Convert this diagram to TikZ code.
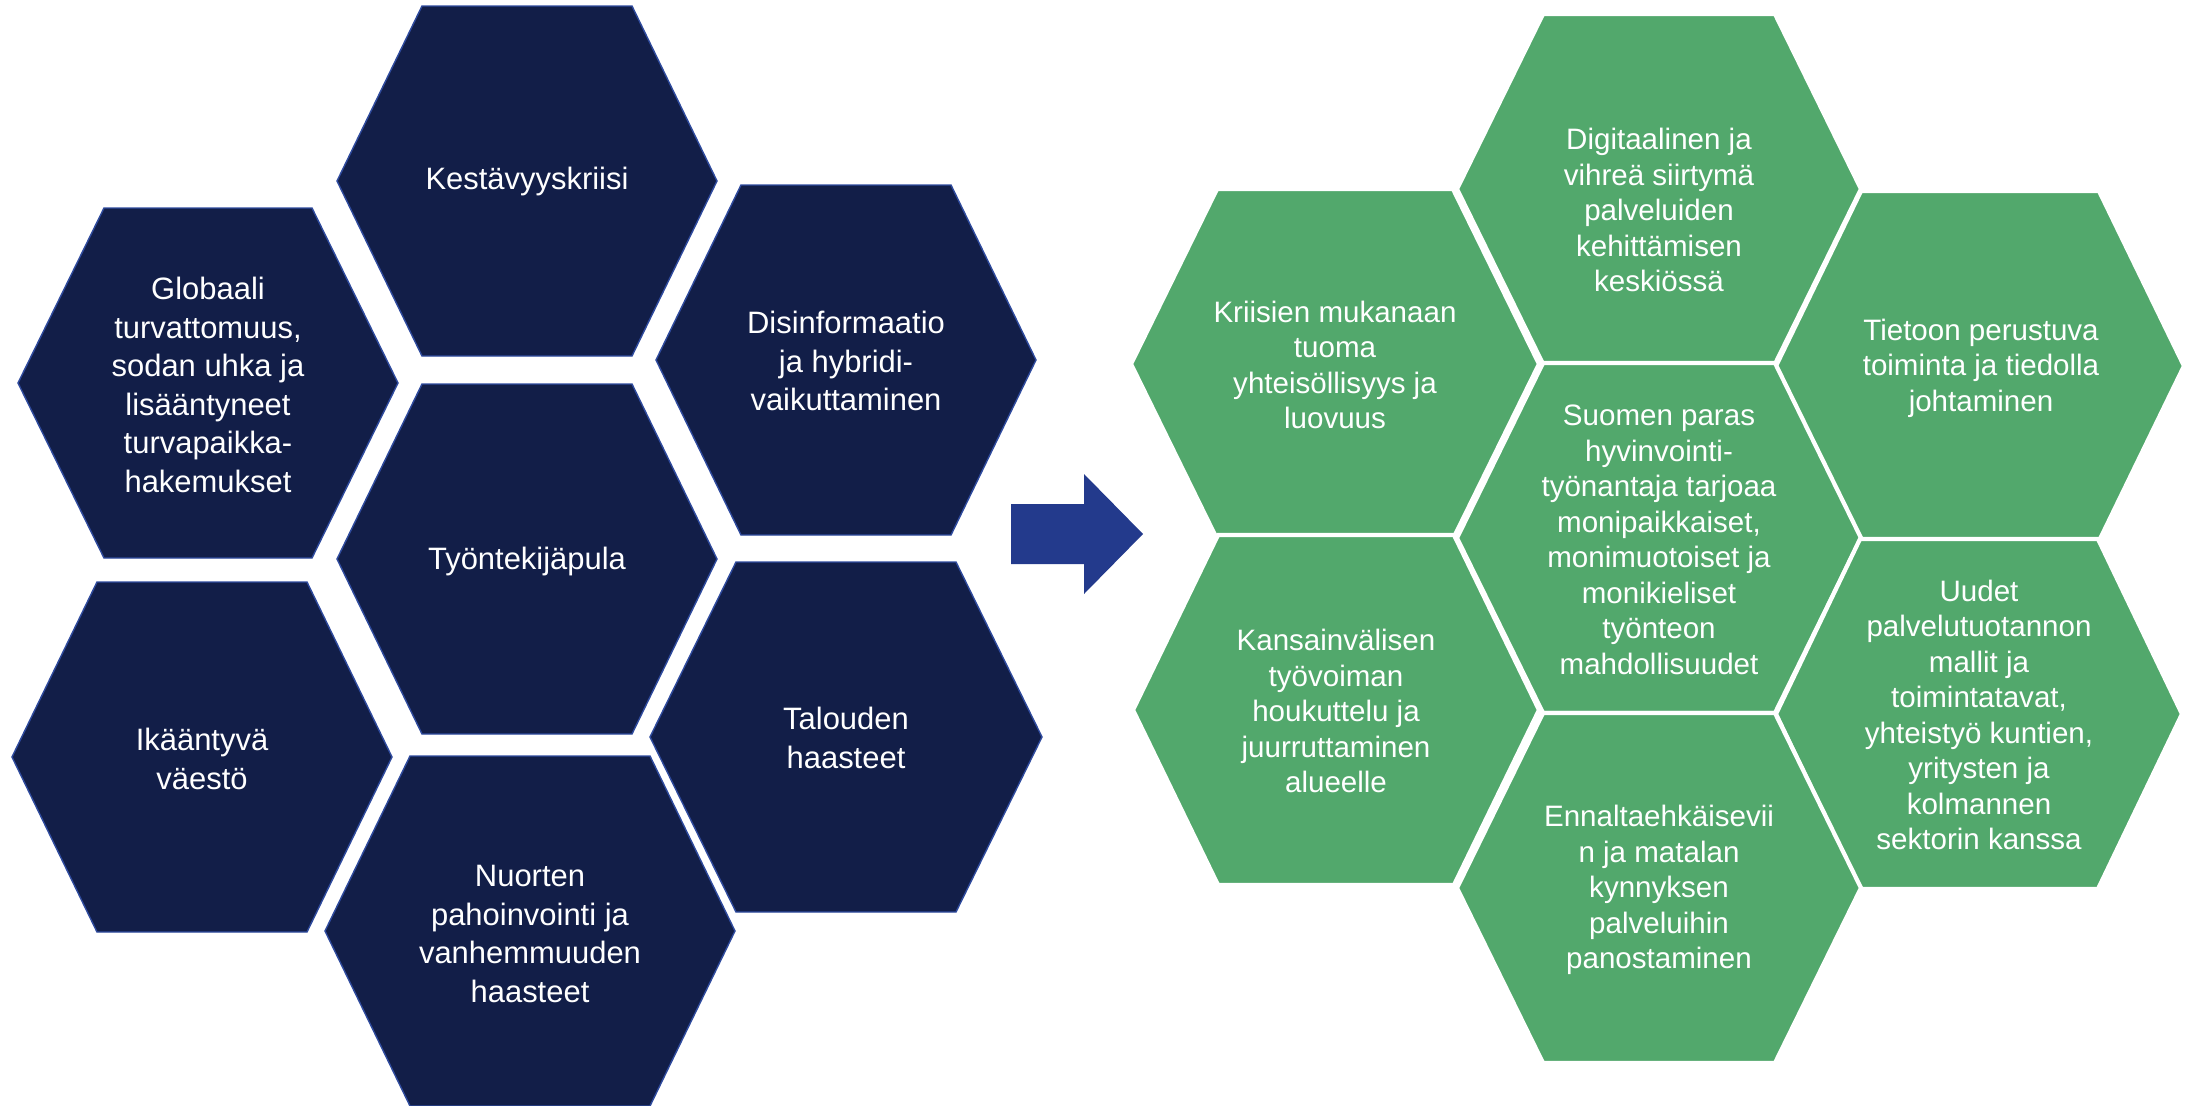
\documentclass[tikz,border=0pt]{standalone}
\usepackage{fontspec}
\setmainfont{Liberation Sans}
\definecolor{navyfill}{HTML}{121E48}
\definecolor{navyline}{HTML}{2F4B9E}
\definecolor{greenfill}{HTML}{52A86C}
\definecolor{arrowblue}{HTML}{233A8C}
\tikzset{
  navyhex/.style={fill=navyfill, draw=navyline, line width=0.4pt},
  greenhex/.style={fill=greenfill, draw=white, line width=1.2pt},
  navytext/.style={text=white, align=center, inner sep=0pt, font=\fontsize{8.8}{10.95}\selectfont},
  greentext/.style={text=white, align=center, inner sep=0pt, font=\fontsize{8.4}{10.1}\selectfont},
}
% style, centre x, centre y, half width, half top edge
\newcommand{\hexcell}[5]{%
  \path[#1] (#2-#4,#3) -- (#2-#5,#3-175) -- (#2+#5,#3-175) -- (#2+#4,#3)
    -- (#2+#5,#3+175) -- (#2-#5,#3+175) -- cycle;}

\begin{document}
\begin{tikzpicture}[x=0.01cm, y=-0.01cm]
\useasboundingbox (0,0) rectangle (2187,1106);

\hexcell{navyhex}{527}{181}{190}{105}
\hexcell{navyhex}{208}{383}{190}{104}
\hexcell{navyhex}{846}{360}{190}{105}
\hexcell{navyhex}{527}{559}{190}{105}
\hexcell{navyhex}{202}{757}{190}{105}
\hexcell{navyhex}{846}{737}{196}{110}
\hexcell{navyhex}{530}{931}{205}{120}

\node[navytext] (kestavyys) at (527,181) {Kestävyyskriisi};
\node[navytext] (globaali) at (208,385) {Globaali\\turvattomuus,\\sodan uhka ja\\lisääntyneet\\turvapaikka-\\hakemukset};
\node[navytext] (disinfo) at (846,361) {Disinformaatio\\ja hybridi-\\vaikuttaminen};
\node[navytext] (tyontekija) at (527,561) {Työntekijäpula};
\node[navytext] (ikaantyva) at (202,759) {Ikääntyvä\\väestö};
\node[navytext] (talous) at (846,738) {Talouden\\haasteet};
\node[navytext] (nuoret) at (530,934) {Nuorten\\pahoinvointi ja\\vanhemmuuden\\haasteet};

\fill[arrowblue] (1011,504) -- (1084,504) -- (1084,474) -- (1143,534) -- (1084,594) -- (1084,564) -- (1011,564) -- cycle;

\hexcell{greenhex}{1659}{189}{202}{116}
\hexcell{greenhex}{1335}{364}{204}{118}
\hexcell{greenhex}{1980}{366}{204}{119}
\hexcell{greenhex}{1659}{538}{202}{116}
\hexcell{greenhex}{1336}{710}{203}{118}
\hexcell{greenhex}{1979}{714}{203}{119}
\hexcell{greenhex}{1659}{888}{202}{116}

\node[greentext] (digi) at (1659,210) {Digitaalinen ja\\vihreä siirtymä\\palveluiden\\kehittämisen\\keskiössä};
\node[greentext] (kriisit) at (1335,365) {Kriisien mukanaan\\tuoma\\yhteisöllisyys ja\\luovuus};
\node[greentext] (tieto) at (1981,368) {Tietoon perustuva\\toiminta ja tiedolla\\johtaminen};
\node[greentext] (tyonantaja) at (1659,540) {Suomen paras\\hyvinvointi-\\työnantaja tarjoaa\\monipaikkaiset,\\monimuotoiset ja\\monikieliset\\työnteon\\mahdollisuudet};
\node[greentext] (kansainv) at (1336,711) {Kansainvälisen\\työvoiman\\houkuttelu ja\\juurruttaminen\\alueelle};
\node[greentext] (uudet) at (1979,715) {Uudet\\palvelutuotannon\\mallit ja\\toimintatavat,\\yhteistyö kuntien,\\yritysten ja\\kolmannen\\sektorin kanssa};
\node[greentext] (ennalta) at (1659,890) {Ennaltaehkäisevii\\n ja matalan\\kynnyksen\\palveluihin\\panostaminen};
\end{tikzpicture}
\end{document}
